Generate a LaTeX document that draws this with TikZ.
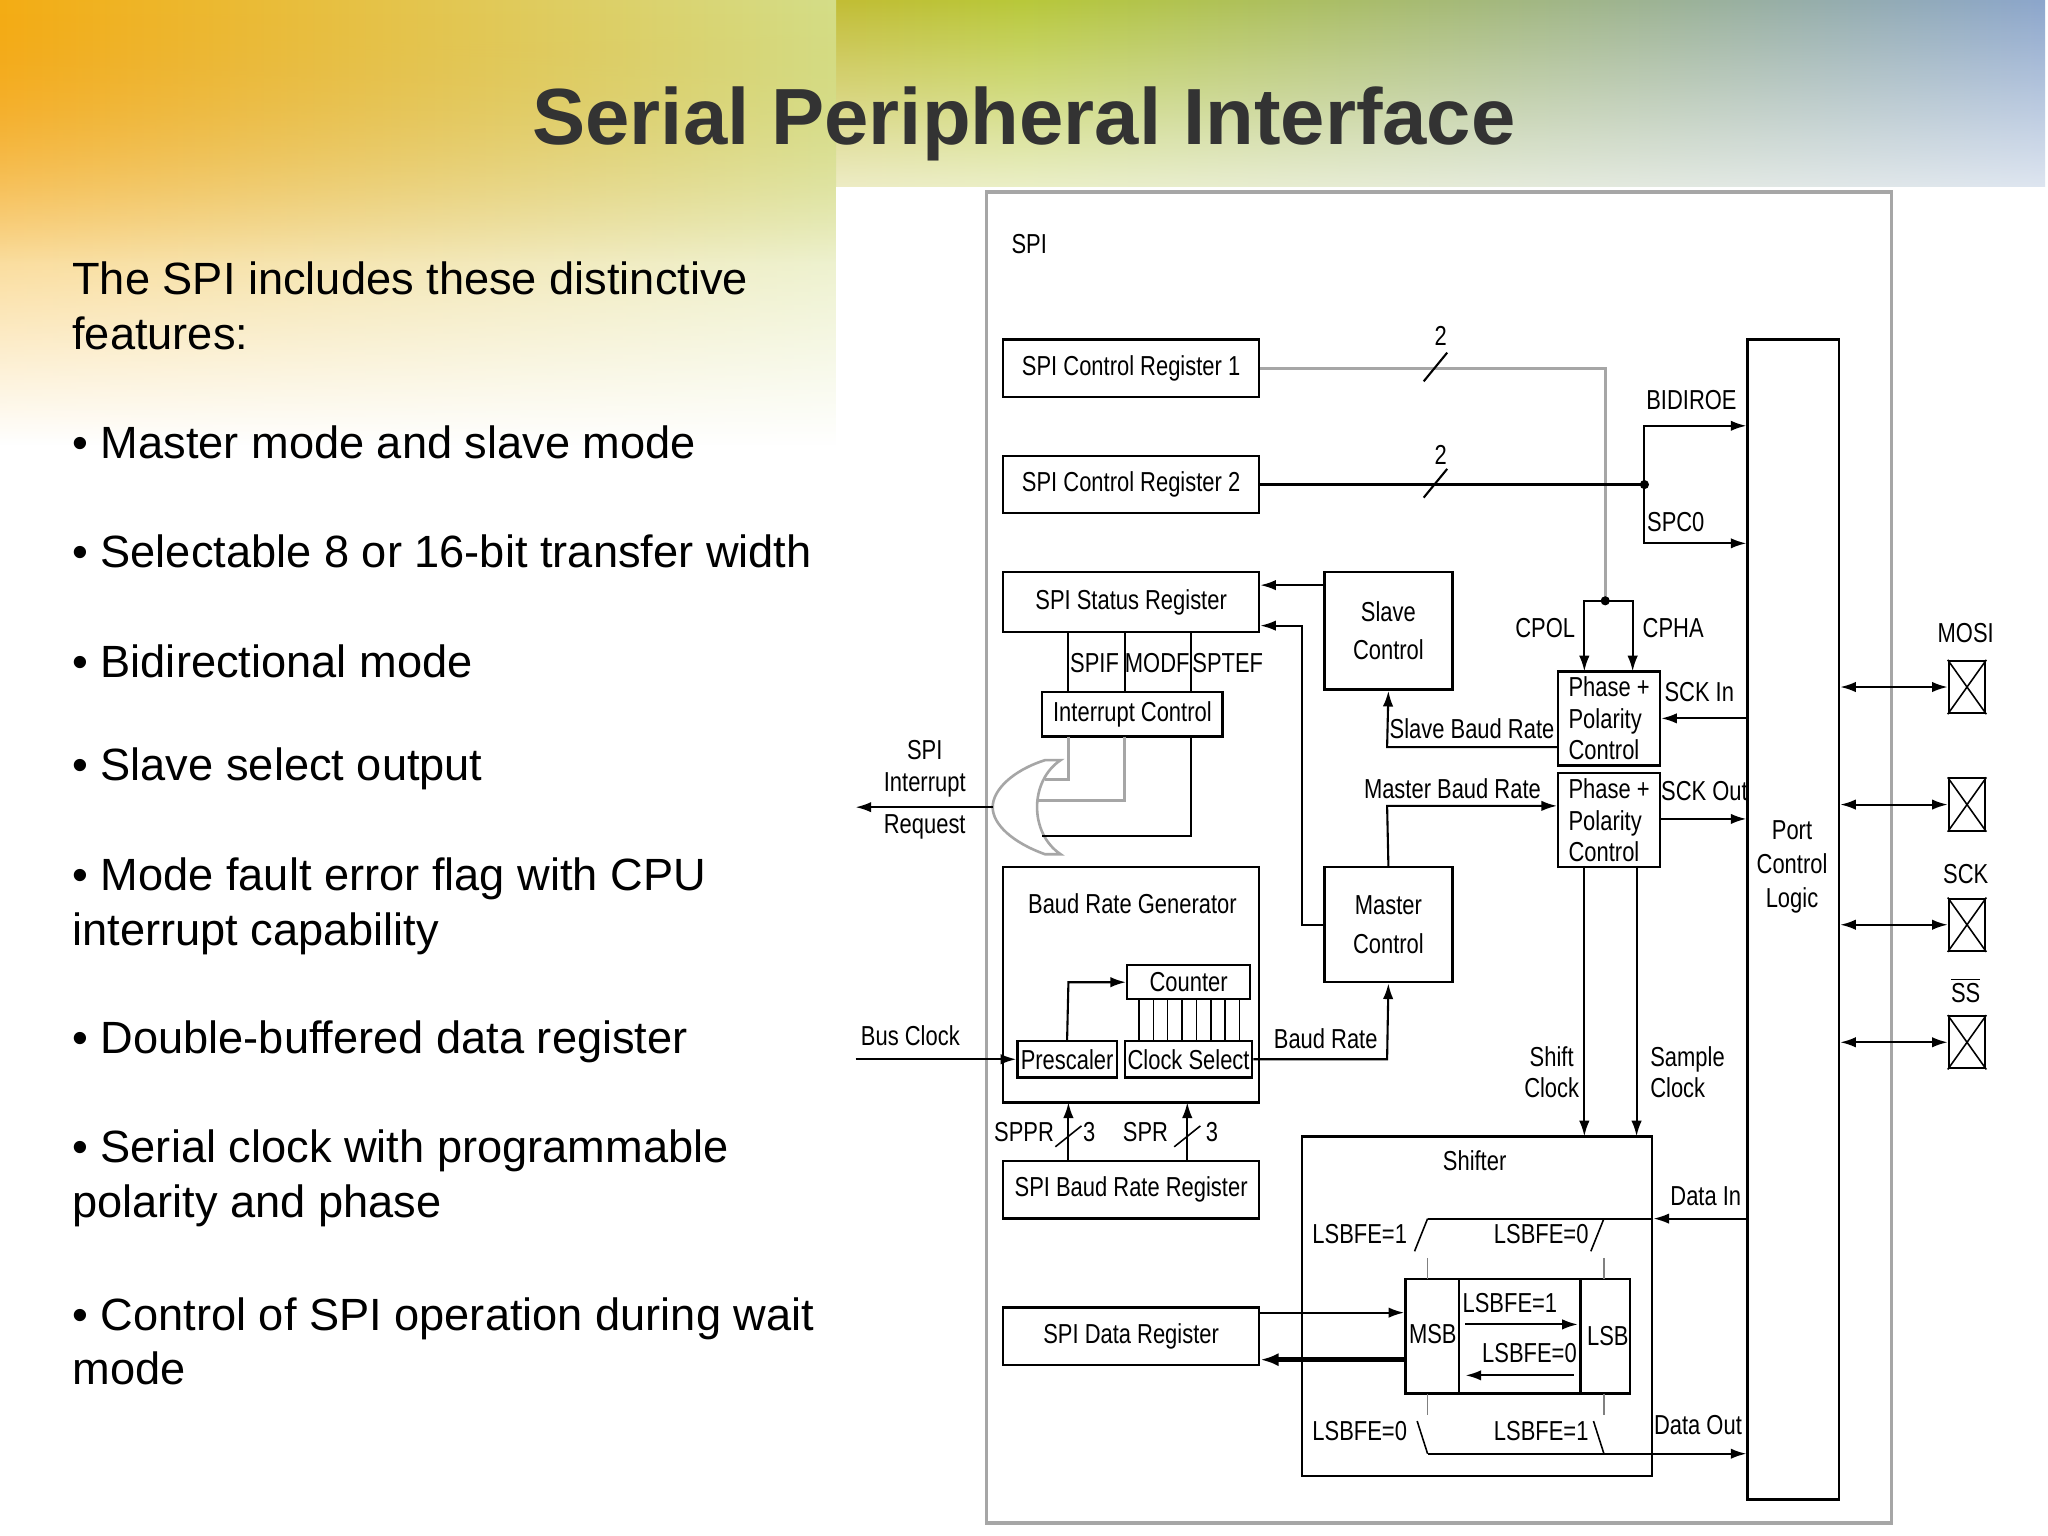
\documentclass[tikz,border=0pt]{standalone}
\usepackage{fontspec}
\setmainfont{Liberation Sans}
\newfontfamily\narrowfont[FakeStretch=0.8]{Liberation Sans}
\usetikzlibrary{arrows.meta,positioning,fadings}

\definecolor{titlegray}{HTML}{333333}
\definecolor{slorange}{HTML}{F08A1C}
\definecolor{slgreen}{HTML}{B8C83A}
\definecolor{slblue}{HTML}{8CA6CC}

\tikzfading[name=softsouth,top color=transparent!0,bottom color=transparent!100]

\tikzset{
  blk/.style={draw,line width=0.9pt,inner sep=0pt},
  lbl/.style={font=\narrowfont\fontsize{10.5}{11}\selectfont,inner sep=1pt},
  bullet/.style={font=\fontsize{17.3}{21}\selectfont,anchor=west,inner sep=0pt,align=left},
  ar/.style={-{Latex[length=6pt,width=4pt]},line width=0.8pt},
  gr/.style={draw=gray!70,line width=1.2pt},
  pin/.style={draw,line width=0.8pt,minimum width=14pt,minimum height=20pt,inner sep=0pt},
}

\begin{document}
\begin{tikzpicture}[x=0.5pt,y=-0.5pt]
\useasboundingbox (0,0) rectangle (1568,1176);
% background
\fill[white] (0,0) rectangle (1568,1176);
\shade[left color=slorange,right color=slblue,middle color=slgreen,path fading=softsouth]
  (0,0) rectangle (1568,200);
\shade[left color=slorange!70!yellow,right color=slgreen!60,path fading=softsouth] (0,0) rectangle (640,340);
\fill[white] (640,143) rectangle (1568,1176);
\node[font=\bfseries\fontsize{30.5}{34}\selectfont,text=titlegray] (title) at (784,95) {Serial Peripheral Interface};

% left text
\node[bullet] (t0) at (55,234) {The SPI includes these distinctive\\features:};
\node[bullet] (t1) at (55,339) {• Master mode and slave mode};
\node[bullet] (t2) at (55,422) {• Selectable 8 or 16-bit transfer width};
\node[bullet] (t3) at (55,506) {• Bidirectional mode};
\node[bullet] (t4) at (55,589) {• Slave select output};
\node[bullet] (t5) at (55,694) {• Mode fault error flag with CPU\\interrupt capability};
\node[bullet] (t6) at (55,798) {• Double-buffered data register};
\node[bullet] (t7) at (55,902) {• Serial clock with programmable\\polarity and phase};
\node[bullet] (t8) at (55,1027) {• Control of SPI operation during wait\\mode};

% frame
\draw[gray!70,line width=1.2pt] (755,147) rectangle (1448,1166);
\node[lbl] (spi) at (788,187) {SPI};

% registers
\node[blk,lbl,minimum width=98pt,minimum height=22pt] (cr1) at (866,282) {SPI Control Register 1};
\node[blk,lbl,minimum width=98pt,minimum height=22pt] (cr2) at (866,371) {SPI Control Register 2};
\node[blk,lbl,minimum width=98pt,minimum height=23pt] (sr) at (866,461) {SPI Status Register};
\node[blk,lbl,minimum width=69pt,minimum height=17pt] (ic) at (867,547) {Interrupt Control};
\draw[line width=0.8pt] (818,484) -- (818,530) (861,484) -- (861,530) (912,484) -- (912,530);
\node[lbl] (spif) at (838,508) {SPIF};
\node[lbl] (modf) at (886,508) {MODF};
\node[lbl] (sptef) at (940,508) {SPTEF};
\node[blk,lbl,minimum width=49pt,minimum height=45pt] (sc) at (1063,483) {\shortstack{Slave\\[4pt]Control}};
\node[blk,lbl,minimum width=49pt,minimum height=44pt] (mc) at (1063,708) {\shortstack{Master\\[4pt]Control}};
\node[blk,lbl,minimum width=39pt,minimum height=36pt,align=left] (pp1) at (1232,550) {Phase +\\[1pt]Polarity\\[1pt]Control};
\node[blk,lbl,minimum width=39pt,minimum height=36pt,align=left] (pp2) at (1232,628) {Phase +\\[1pt]Polarity\\[1pt]Control};
\node[blk,lbl,minimum width=35pt,minimum height=444pt] (pcl) at (1373,704) {};
\node[lbl,align=center] (pcltxt) at (1372,664) {Port\\[2pt]Control\\[2pt]Logic};

% baud rate generator
\node[blk,minimum width=98pt,minimum height=90pt] (brg) at (866,754) {};
\node[lbl] (brgtxt) at (867,692) {Baud Rate Generator};
\node[blk,lbl,minimum width=47pt,minimum height=13pt] (cnt) at (910,752) {Counter};
\node[blk,lbl,minimum width=47pt,minimum height=14pt] (cs) at (910,811) {Clock Select};
\node[blk,lbl,minimum width=38pt,minimum height=14pt] (pre) at (817,811) {Prescaler};
\foreach \xx in {872,883,894,905,916,927,938,949} \draw[line width=0.6pt] (\xx,765) -- (\xx,797);
\node[blk,lbl,minimum width=98pt,minimum height=22pt] (brr) at (866,911) {SPI Baud Rate Register};
\node[blk,lbl,minimum width=98pt,minimum height=22pt] (dr) at (866,1023) {SPI Data Register};

% shifter
\node[blk,minimum width=134pt,minimum height=130pt] (sh) at (1131,1000) {};
\node[lbl] (shtxt) at (1129,889) {Shifter};
\node[blk,minimum width=86pt,minimum height=44pt] (sreg) at (1162,1023) {};
\draw[line width=0.9pt] (1117,979) -- (1117,1067) (1210,979) -- (1210,1067);
\node[lbl] (msb) at (1097,1021) {MSB};
\node[lbl] (lsb) at (1231,1023) {LSB};
\node[lbl] (l1) at (1156,998) {LSBFE=1};
\node[lbl] (l0) at (1171,1036) {LSBFE=0};
\draw[ar] (1122,1014) -- (1208,1014);
\draw[ar] (1205,1053) -- (1122,1053);
\node[lbl] (a1) at (1041,945) {LSBFE=1};
\node[lbl] (a0) at (1180,945) {LSBFE=0};
\node[lbl] (b0) at (1041,1096) {LSBFE=0};
\node[lbl] (b1) at (1180,1096) {LSBFE=1};
\draw[line width=0.6pt] (1083,958) -- (1093,933) (1218,958) -- (1228,933);
\draw[line width=0.6pt] (1085,1088) -- (1093,1113) (1220,1088) -- (1228,1113);
\draw[gray,line width=0.5pt] (1093,963) -- (1093,979) (1228,963) -- (1228,979)
  (1093,1067) -- (1093,1083) (1228,1067) -- (1228,1083);

% pins
\node[pin] (mosi) at (1506,526) {};
\node[pin] (pin2) at (1506,616) {};
\node[pin] (sck) at (1506,708) {};
\node[pin] (ss) at (1506,798) {};
\foreach \p in {mosi,pin2,sck,ss}
  \draw[line width=0.6pt] (\p.north west) -- (\p.south east) (\p.north east) -- (\p.south west);
\node[lbl] (mosit) at (1505,485) {MOSI};
\node[lbl] (sckt) at (1505,669) {SCK};
\node[lbl] (sst) at (1505,758) {$\overline{\mbox{SS}}$};
\foreach \p in {mosi,pin2,sck,ss}
  \draw[{Latex[length=6pt,width=4pt]}-{Latex[length=6pt,width=4pt]},line width=0.8pt]
    (pcl.east |- \p.west) -- (\p.west);

% control register lines
\coordinate (dcp) at (1229,460);
\coordinate (dsp) at (1259,371);
\draw[gr] (cr1.east) -- (1229,282) -- (dcp);
\draw[line width=0.8pt] (1090,292) -- (1108,270) (1090,381) -- (1108,359);
\node[lbl] (n1) at (1103,257) {2};
\node[lbl] (n2) at (1103,348) {2};
\draw[line width=0.9pt] (cr2.east) -- (dsp);
\fill (dsp) circle (3.5); \fill (dcp) circle (3.5);
\draw[ar] (1259,416) -- (1259,326) -- (pcl.west |- 0,326);
\draw[ar] (dsp) |- (pcl.west |- 0,416);
\node[lbl] (bid) at (1295,306) {BIDIROE};
\node[lbl] (spc0) at (1283,400) {SPC0};
\draw[ar] (dcp) -- (1213,460) -- (1213,514);
\draw[ar] (dcp) -- (1250,460) -- (1250,514);
\node[lbl] (cpol) at (1183,481) {CPOL};
\node[lbl] (cpha) at (1281,481) {CPHA};

% sck paths
\draw[ar] (pcl.west |- 0,550) -- (pp1.east |- 0,550);
\node[lbl] (sckin) at (1301,530) {SCK In};
\draw[ar] (pp2.east |- 0,627) -- (pcl.west |- 0,627);
\node[lbl] (sckout) at (1305,606) {SCK Out};
\draw[ar] (pp1.west |- 0,572) -- (1062,572) -- (sc.south);
\node[lbl] (sbr) at (1127,558) {Slave Baud Rate};
\draw[ar] (mc.north) -- (1062,617) -- (pp2.west |- 0,617);
\node[lbl] (mbr) at (1112,604) {Master Baud Rate};
\draw[ar] (sc.west |- 0,448) -- (sr.east |- 0,448);
\draw[ar] (mc.west) -- (997,708) -- (997,479) -- (sr.east |- 0,479);

% shift / sample clocks
\draw[ar] (1213,663) -- (1213,870);
\draw[ar] (1253,663) -- (1253,870);
\node[lbl,align=center] (shc) at (1188,821) {Shift\\[1pt]Clock};
\node[lbl,align=left] (smc) at (1292,821) {Sample\\[1pt]Clock};

% data in / out
\draw[ar] (pcl.west |- 0,933) -- (sh.east |- 0,933);
\draw[line width=0.8pt] (sh.east |- 0,933) -- (1093,933);
\node[lbl] (din) at (1306,916) {Data In};
\draw[ar] (1093,1113) -- (pcl.west |- 0,1113);
\node[lbl] (dout) at (1300,1091) {Data Out};
\draw[ar] (dr.east |- 0,1005) -- (sreg.west |- 0,1005);
\draw[-{Latex[length=7pt,width=5pt]},line width=2pt] (sreg.west |- 0,1041) -- (dr.east |- 0,1041);

% baud rate generator paths
\node[lbl] (bclk) at (697,793) {Bus Clock};
\coordinate (bcin) at (655,811);
\draw[ar] (bcin) -- (pre.west);
\draw[ar] (pre.north) -- (818,752) -- (cnt.west);
\draw[ar] (cs.east) -- (1062,811) -- (mc.south);
\node[lbl] (br) at (1015,795) {Baud Rate};
\draw[ar] (brr.north -| 818,0) -- (818,844);
\draw[ar] (brr.north -| 909,0) -- (909,844);
\draw[line width=0.6pt] (808,878) -- (828,862) (899,878) -- (919,862);
\node[lbl] (sppr) at (784,867) {SPPR};
\node[lbl] (s3a) at (834,867) {3};
\node[lbl] (spr) at (877,867) {SPR};
\node[lbl] (s3b) at (928,867) {3};

% interrupt OR gate
\draw[gray!70,line width=1pt,fill=white] (800,582) .. controls (775,590) and (760,605) .. (760,618)
  .. controls (760,631) and (775,645) .. (800,654) -- (812,654)
  .. controls (788,638) and (788,598) .. (812,582) -- cycle;
\coordinate (orout) at (760,618);
\coordinate (irq) at (655,618);
\draw[gr] (818,564) -- (818,597) -- (800,597);
\draw[gr] (861,564) -- (861,613) -- (795,613);
\draw[line width=0.8pt] (912,564) -- (912,640) -- (798,640);
\draw[ar] (orout) -- (irq);
\node[lbl] (irq1) at (708,574) {SPI};
\node[lbl] (irq2) at (708,601) {Interrupt};
\node[lbl] (irq3) at (708,633) {Request};
\end{tikzpicture}
\end{document}
